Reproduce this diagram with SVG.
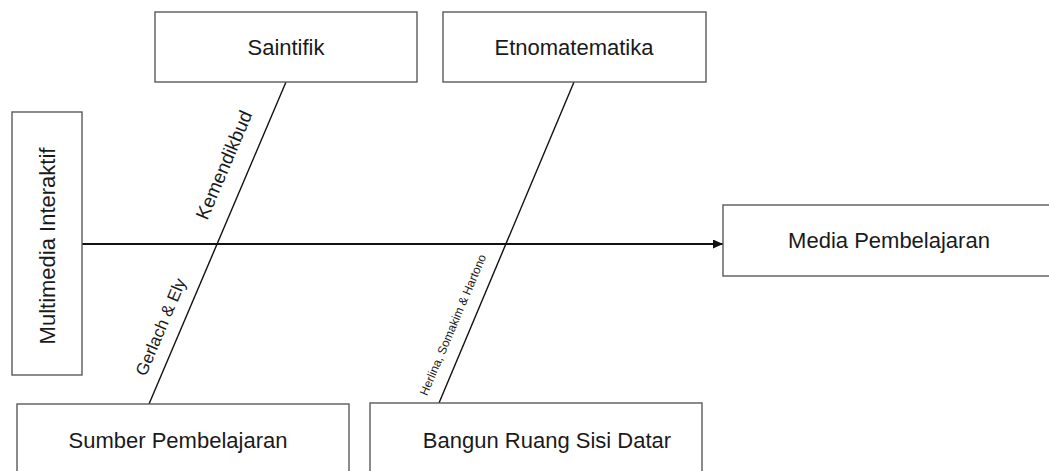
<svg xmlns="http://www.w3.org/2000/svg" width="1049" height="471" viewBox="0 0 1049 471">
<style>
.box{fill:#fff;stroke:#5a5a5a;stroke-width:1.4}
.t{font-family:"Liberation Sans",Arial,sans-serif;font-size:22px;fill:#1a1a1a;text-anchor:middle}
.lbl{font-family:"Liberation Sans",Arial,sans-serif;fill:#1a1a1a;text-anchor:middle;dominant-baseline:central}
.bone{stroke:#111;stroke-width:1.4;fill:none}
</style>
<defs>
<marker id="ah" markerWidth="10" markerHeight="9" refX="10" refY="4.5" orient="auto" markerUnits="userSpaceOnUse">
<path d="M0,0 L10,4.5 L0,9 Z" fill="#111"/>
</marker>
</defs>
<rect width="1049" height="471" fill="#fff"/>
<g id="connectors">
<line x1="82" y1="244" x2="723" y2="244" stroke="#111" stroke-width="2" marker-end="url(#ah)"/>
<line class="bone" x1="286" y1="82" x2="149" y2="404"/>
<line class="bone" x1="574" y1="82" x2="439" y2="403"/>
<text class="lbl" font-size="19" transform="translate(224,165) rotate(-67)">Kemendikbud</text>
<text class="lbl" font-size="17" transform="translate(161,327) rotate(-67)">Gerlach &amp; Ely</text>
<text class="lbl" font-size="12" transform="translate(453,325) rotate(-67)">Herlina, Somakim &amp; Hartono</text>
</g>
<g id="saintifik">
<rect class="box" x="155" y="12" width="262" height="70"/>
<text class="t" x="286" y="55">Saintifik</text>
</g>
<g id="etnomatematika">
<rect class="box" x="443" y="12" width="263" height="70"/>
<text class="t" x="574" y="55">Etnomatematika</text>
</g>
<g id="multimedia">
<rect class="box" x="12" y="112" width="70" height="263"/>
<text class="t" transform="translate(55,246) rotate(-90)">Multimedia Interaktif</text>
</g>
<g id="media">
<rect class="box" x="723" y="205" width="330" height="71"/>
<text class="t" x="889" y="248">Media Pembelajaran</text>
</g>
<g id="sumber">
<rect class="box" x="17" y="404" width="332" height="80"/>
<text class="t" x="178" y="448">Sumber Pembelajaran</text>
</g>
<g id="bangun">
<rect class="box" x="370" y="403" width="332" height="80"/>
<text class="t" x="547" y="448">Bangun Ruang Sisi Datar</text>
</g>
</svg>
